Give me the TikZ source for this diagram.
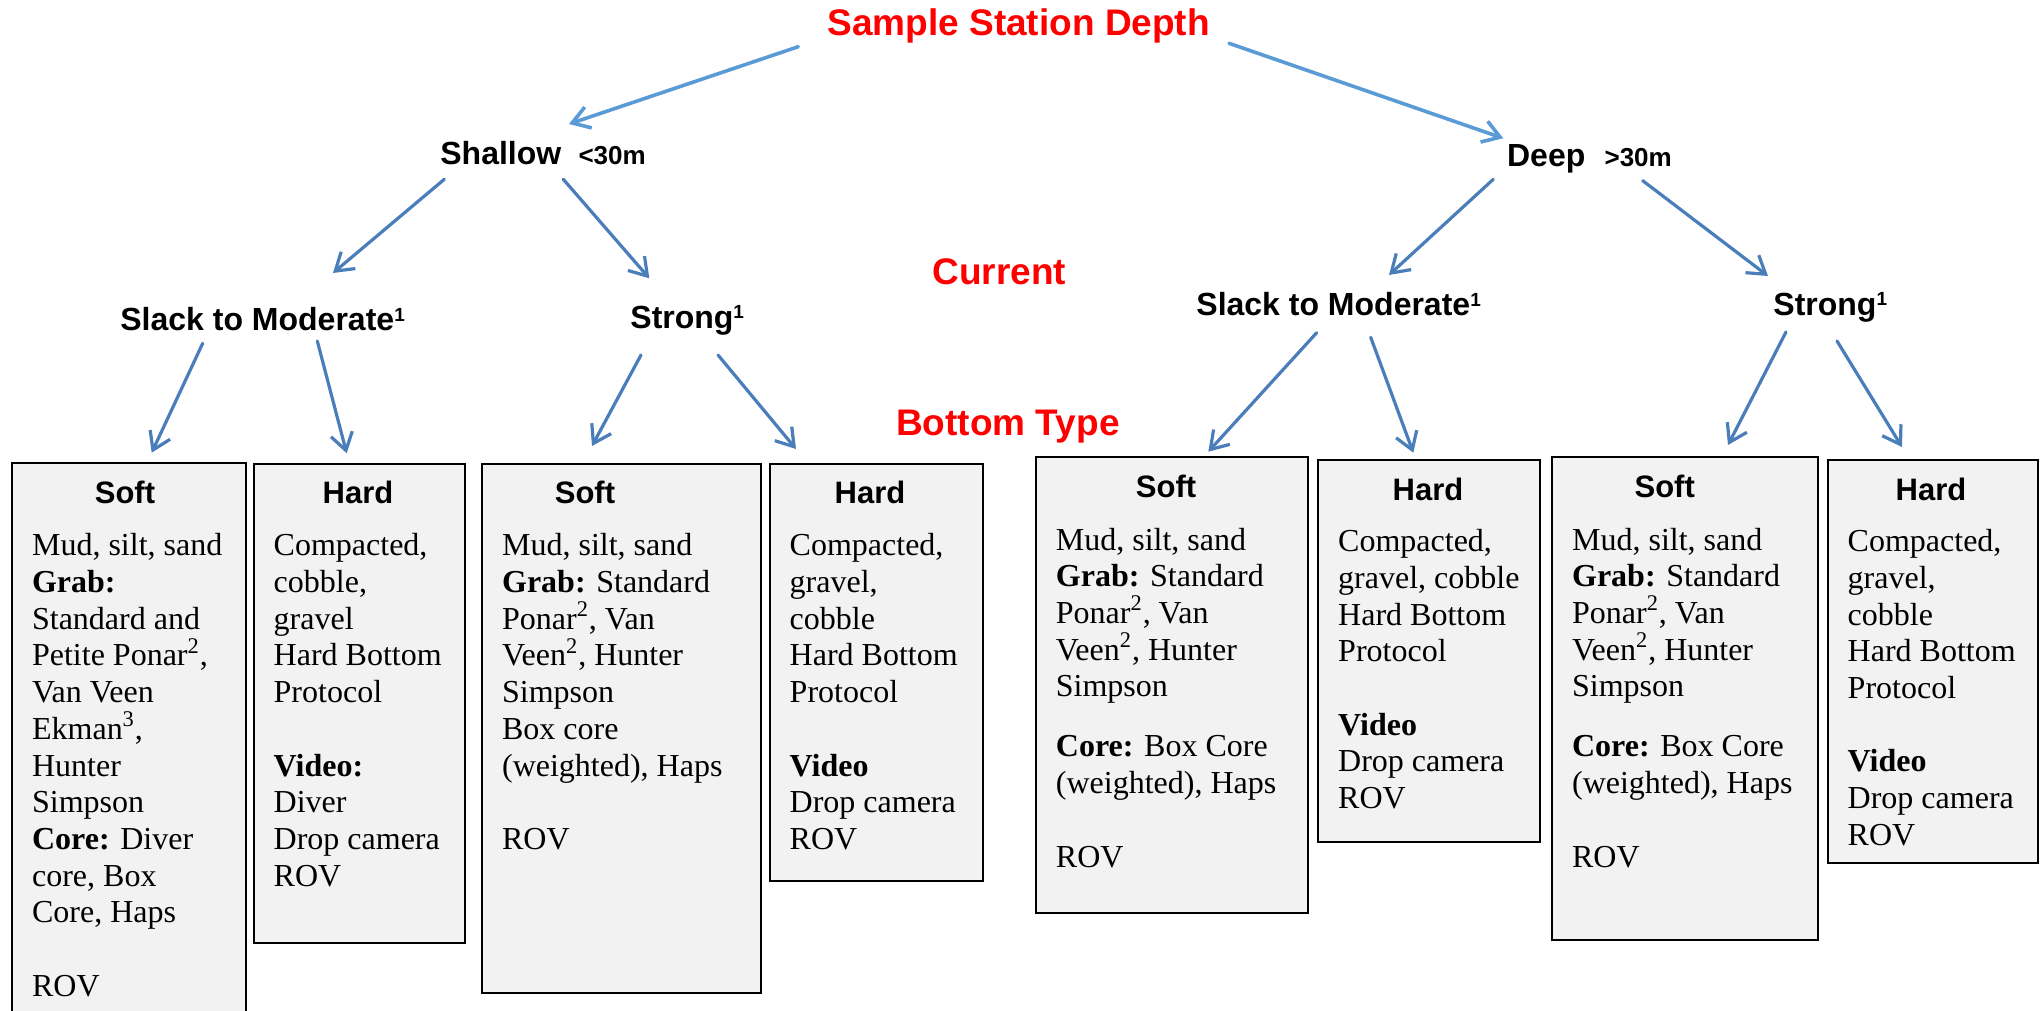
\documentclass[tikz,border=0pt]{standalone}
\usepackage{fontspec}
\setmainfont{Liberation Serif}
\newfontfamily\arial{Liberation Sans}
\usetikzlibrary{arrows.meta}
\definecolor{arrowblue}{HTML}{4A7EBB}
\definecolor{toparrow}{HTML}{5B9BD5}
\definecolor{boxgray}{HTML}{F2F2F2}
\newcommand{\bodytext}[2]{\parbox[t]{#1}{\raggedright\fontsize{16}{18.35}\selectfont #2}}
\newcommand{\labsup}[1]{\raisebox{4.8pt}{\fontsize{9.5}{10}\selectfont #1}}
\begin{document}
\begin{tikzpicture}[x=0.5pt,y=-0.5pt,
  redlabel/.style={font=\arial\bfseries\fontsize{18.5}{22}\selectfont, text=red, inner sep=0pt, anchor=base},
  level/.style={font=\arial\bfseries\fontsize{16}{19}\selectfont, inner sep=0pt, anchor=base west},
  head/.style={font=\arial\bfseries\fontsize{15.5}{18}\selectfont, inner sep=0pt, anchor=base},
  body/.style={inner sep=0pt, anchor=base west},
  box/.style={draw=black, line width=1pt, fill=boxgray, anchor=north west, inner sep=0pt},
  flow/.style={draw=arrowblue, line width=1.6pt, line cap=round, -{Straight Barb[length=8.5pt,width=11pt]}},
  topflow/.style={flow, draw=toparrow, line width=1.8pt}]
\useasboundingbox (0,0) rectangle (2040,1011);

% labels
\node[redlabel] (title) at (1018.7,36) {Sample Station Depth};
\node[redlabel] (current) at (999.4,284) {Current};
\node[redlabel] (bottom) at (1007.9,435) {Bottom Type};

\node[level] (shallow) at (440,164.3) {Shallow\hspace{8.6pt}{\fontsize{13}{15}\selectfont <30m}};
\node[level] (deep) at (1506.7,166.7) {Deep\hspace{9.6pt}{\fontsize{13}{15}\selectfont >30m}};
\node[level] (lslack) at (120,330.7) {Slack to Moderate\labsup{1}};
\node[level] (lstrong) at (630,328.3) {Strong\labsup{1}};
\node[level] (rslack) at (1196,315.7) {Slack to Moderate\labsup{1}};
\node[level] (rstrong) at (1773,315.3) {Strong\labsup{1}};

% boxes
\node[box, minimum width=117pt, minimum height=281.5pt] (b1) at (11,462) {};
\node[box, minimum width=105.5pt, minimum height=239.7pt] (b2) at (253,462.6) {};
\node[box, minimum width=139.5pt, minimum height=264.7pt] (b3) at (481,462.6) {};
\node[box, minimum width=106.5pt, minimum height=208.7pt] (b4) at (769,462.6) {};
\node[box, minimum width=136.45pt, minimum height=228pt] (b5) at (1034.5,456) {};
\node[box, minimum width=111.1pt, minimum height=191pt] (b6) at (1316.8,458.7) {};
\node[box, minimum width=133.15pt, minimum height=241.5pt] (b7) at (1551,456) {};
\node[box, minimum width=105pt, minimum height=201.7pt] (b8) at (1826.7,458.7) {};

% headings
\node[head] (h1) at (125,503.7) {Soft};
\node[head] (h2) at (358,503.7) {Hard};
\node[head] (h3) at (585,503.7) {Soft};
\node[head] (h4) at (870,503.7) {Hard};
\node[head] (h5) at (1166,497) {Soft};
\node[head] (h6) at (1428,500.7) {Hard};
\node[head] (h7) at (1664.7,497) {Soft};
\node[head] (h8) at (1931,500.7) {Hard};

% body texts
\node[body] (t1) at (31.7,555.8) {\bodytext{200pt}{Mud, silt, sand\\
\textbf{Grab:}\\
Standard and\\
Petite Ponar\textsuperscript{2},\\
Van Veen\\
Ekman\textsuperscript{3},\\
Hunter\\
Simpson\\
\textbf{Core:} Diver\\
core, Box\\
Core, Haps\\
\mbox{}\\
ROV}};
\node[body] (t2) at (273.3,555.8) {\bodytext{200pt}{Compacted,\\
cobble,\\
gravel\\
Hard Bottom\\
Protocol\\
\mbox{}\\
\textbf{Video:}\\
Diver\\
Drop camera\\
ROV}};
\node[body] (t3) at (501.7,555.8) {\bodytext{200pt}{Mud, silt, sand\\
\textbf{Grab:} Standard\\
Ponar\textsuperscript{2}, Van\\
Veen\textsuperscript{2}, Hunter\\
Simpson\\
Box core\\
(weighted), Haps\\
\mbox{}\\
ROV}};
\node[body] (t4) at (789.3,555.8) {\bodytext{200pt}{Compacted,\\
gravel,\\
cobble\\
Hard Bottom\\
Protocol\\
\mbox{}\\
\textbf{Video}\\
Drop camera\\
ROV}};
\node[body] (t5) at (1055.5,550) {\bodytext{200pt}{Mud, silt, sand\\
\textbf{Grab:} Standard\\
Ponar\textsuperscript{2}, Van\\
Veen\textsuperscript{2}, Hunter\\
Simpson\\[11.7pt]
\textbf{Core:} Box Core\\
(weighted), Haps\\
\mbox{}\\
ROV}};
\node[body] (t6) at (1337.8,551.7) {\bodytext{200pt}{Compacted,\\
gravel, cobble\\
Hard Bottom\\
Protocol\\
\mbox{}\\
\textbf{Video}\\
Drop camera\\
ROV}};
\node[body] (t7) at (1571.7,550) {\bodytext{200pt}{Mud, silt, sand\\
\textbf{Grab:} Standard\\
Ponar\textsuperscript{2}, Van\\
Veen\textsuperscript{2}, Hunter\\
Simpson\\[11.7pt]
\textbf{Core:} Box Core\\
(weighted), Haps\\
\mbox{}\\
ROV}};
\node[body] (t8) at (1847.3,551.7) {\bodytext{200pt}{Compacted,\\
gravel,\\
cobble\\
Hard Bottom\\
Protocol\\
\mbox{}\\
\textbf{Video}\\
Drop camera\\
ROV}};

% connector end points
\coordinate (a1s) at (798.3,46.7);   \coordinate (a1e) at (569,124);
\coordinate (a2s) at (1229,43.3);    \coordinate (a2e) at (1503.3,138.3);
\coordinate (a3s) at (444.3,179.3);  \coordinate (a3e) at (333,273);
\coordinate (a4s) at (563.3,179.3);  \coordinate (a4e) at (649.3,278.3);
\coordinate (a5s) at (1493.3,179.3); \coordinate (a5e) at (1389,275);
\coordinate (a6s) at (1642.7,180.7); \coordinate (a6e) at (1768,276);
\coordinate (a7s) at (202.7,343.3);  \coordinate (a7e) at (151.7,452.7);
\coordinate (a8s) at (317.3,341);    \coordinate (a8e) at (346.7,453.3);
\coordinate (a9s) at (641,355);      \coordinate (a9e) at (592,446);
\coordinate (a10s) at (718,355);     \coordinate (a10e) at (796,449);
\coordinate (a11s) at (1316.7,332.7);\coordinate (a11e) at (1208.3,451.7);
\coordinate (a12s) at (1370.7,337.3);\coordinate (a12e) at (1413.3,452.7);
\coordinate (a13s) at (1786,332);    \coordinate (a13e) at (1728,445);
\coordinate (a14s) at (1837,341);    \coordinate (a14e) at (1902,447);

\draw[topflow] (a1s) -- (a1e);
\draw[topflow] (a2s) -- (a2e);
\draw[flow] (a3s) -- (a3e);
\draw[flow] (a4s) -- (a4e);
\draw[flow] (a5s) -- (a5e);
\draw[flow] (a6s) -- (a6e);
\draw[flow] (a7s) -- (a7e);
\draw[flow] (a8s) -- (a8e);
\draw[flow] (a9s) -- (a9e);
\draw[flow] (a10s) -- (a10e);
\draw[flow] (a11s) -- (a11e);
\draw[flow] (a12s) -- (a12e);
\draw[flow] (a13s) -- (a13e);
\draw[flow] (a14s) -- (a14e);
\end{tikzpicture}
\end{document}
